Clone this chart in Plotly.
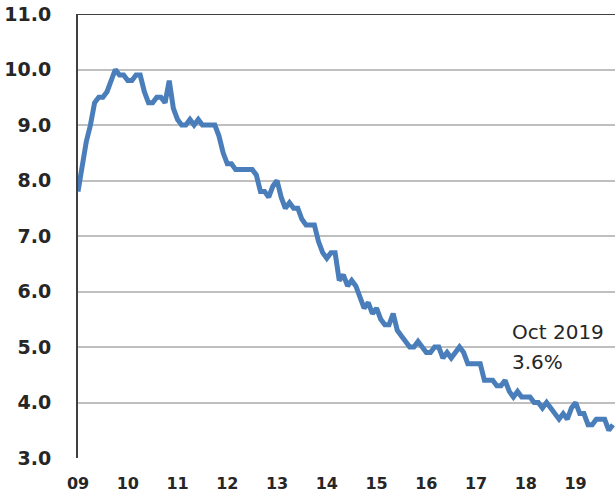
import plotly.graph_objects as go

# Monthly US unemployment rate (%), Jan 2009 - Oct 2019
rate_2009 = [7.8, 8.3, 8.7, 9.0, 9.4, 9.5, 9.5, 9.6, 9.8, 10.0, 9.9, 9.9]
rate_2010 = [9.8, 9.8, 9.9, 9.9, 9.6, 9.4, 9.4, 9.5, 9.5, 9.4, 9.8, 9.3]
rate_2011 = [9.1, 9.0, 9.0, 9.1, 9.0, 9.1, 9.0, 9.0, 9.0, 9.0, 8.8, 8.5]
rate_2012 = [8.3, 8.3, 8.2, 8.2, 8.2, 8.2, 8.2, 8.1, 7.8, 7.8, 7.7, 7.9]
rate_2013 = [8.0, 7.7, 7.5, 7.6, 7.5, 7.5, 7.3, 7.2, 7.2, 7.2, 6.9, 6.7]
rate_2014 = [6.6, 6.7, 6.7, 6.2, 6.3, 6.1, 6.2, 6.1, 5.9, 5.7, 5.8, 5.6]
rate_2015 = [5.7, 5.5, 5.4, 5.4, 5.6, 5.3, 5.2, 5.1, 5.0, 5.0, 5.1, 5.0]
rate_2016 = [4.9, 4.9, 5.0, 5.0, 4.8, 4.9, 4.8, 4.9, 5.0, 4.9, 4.7, 4.7]
rate_2017 = [4.7, 4.7, 4.4, 4.4, 4.4, 4.3, 4.3, 4.4, 4.2, 4.1, 4.2, 4.1]
rate_2018 = [4.1, 4.1, 4.0, 4.0, 3.9, 4.0, 3.9, 3.8, 3.7, 3.8, 3.7, 3.9]
rate_2019 = [4.0, 3.8, 3.8, 3.6, 3.6, 3.7, 3.7, 3.7, 3.5, 3.6]

rates = (rate_2009 + rate_2010 + rate_2011 + rate_2012 + rate_2013 + rate_2014
         + rate_2015 + rate_2016 + rate_2017 + rate_2018 + rate_2019)
months = list(range(len(rates)))

year_labels = ["09", "10", "11", "12", "13", "14", "15", "16", "17", "18", "19"]
year_ticks = [12 * i for i in range(len(year_labels))]
y_ticks = [3, 4, 5, 6, 7, 8, 9, 10, 11]
y_labels = ["3.0", "4.0", "5.0", "6.0", "7.0", "8.0", "9.0", "10.0", "11.0"]

annot_line1 = "Oct 2019"
annot_line2 = "3.6%"

fig = go.Figure()
fig.add_trace(go.Scatter(
    x=months, y=rates, mode="lines",
    line=dict(color="#4A7EBB", width=5),
    hoverinfo="skip", showlegend=False,
))

fig.add_shape(type="line", xref="paper", yref="y", x0=0, x1=1, y0=11, y1=11,
              line=dict(color="#404040", width=2))

for txt, yv in [(annot_line1, 5.27), (annot_line2, 4.73)]:
    fig.add_annotation(
        x=104.2, y=yv, xref="x", yref="y", text=txt, showarrow=False,
        xanchor="left", yanchor="middle", align="left",
        font=dict(family="DejaVu Sans", size=20, color="#262626"),
    )

fig.update_layout(
    width=615, height=496,
    margin=dict(l=78, r=0, t=14, b=38, autoexpand=False),
    paper_bgcolor="white", plot_bgcolor="white",
    font=dict(family="DejaVu Sans", color="#262626"),
)
fig.update_xaxes(
    range=[0, 129.5], tickvals=year_ticks, ticktext=year_labels,
    showgrid=False, zeroline=False, showline=False, automargin=False,
    tickfont=dict(family="DejaVu Sans", size=16, weight="bold", color="#262626"),
    ticks="", ticklabelstandoff=14, ticklabeloverflow="allow",
)
fig.update_yaxes(
    range=[3, 11], tickvals=y_ticks, ticktext=y_labels,
    showgrid=True, gridcolor="#BFBFBF", gridwidth=2, zeroline=False,
    showline=True, linecolor="#404040", linewidth=2, automargin=False,
    tickfont=dict(family="DejaVu Sans", size=19, weight="bold", color="#262626"),
    ticks="", ticklabelstandoff=21, ticklabeloverflow="allow",
)

fig.write_html(
    "out.html",
    config={"displayModeBar": False, "staticPlot": True},
    post_script="document.body.style.margin='0';document.body.style.overflow='hidden';",
)
